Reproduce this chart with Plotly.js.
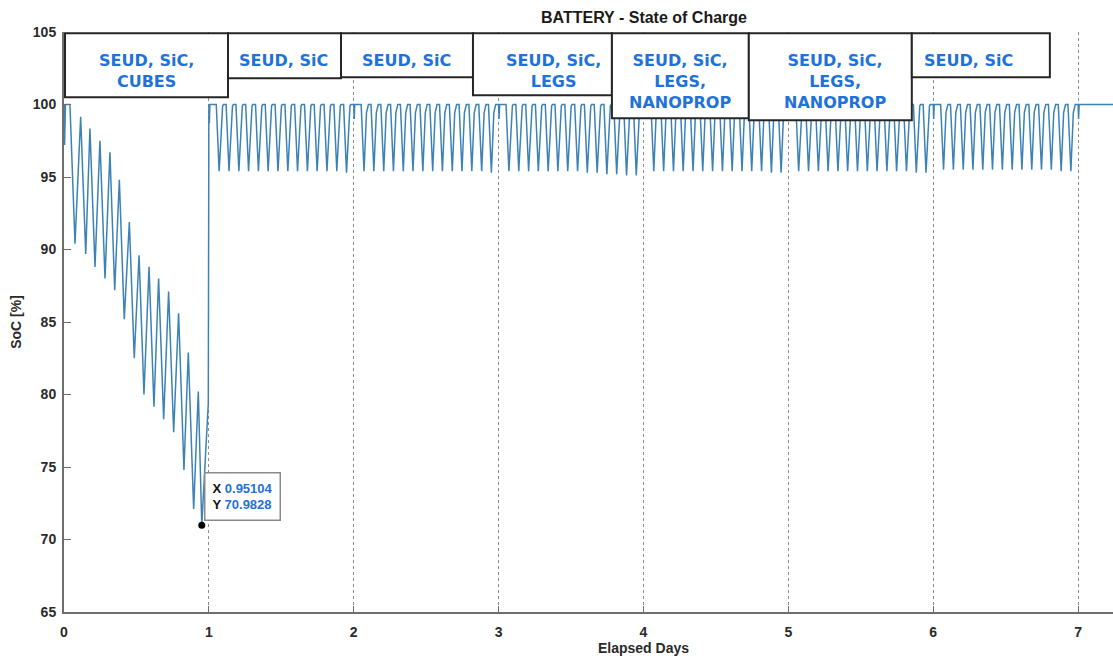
<!DOCTYPE html>
<html>
<head>
<meta charset="utf-8">
<script src="https://cdn.plot.ly/plotly-3.0.1.min.js"></script>
<style>
  html, body { margin: 0; padding: 0; overflow: hidden; background: #fff; }
  #chart { width: 1233px; height: 662px; }
</style>
</head>
<body>
<div id="chart"></div>
<script>
// ---------------- data ----------------
// Day 0 (first day, deep cycling): key points (elapsed days, SoC %)
const day0T = [0, 0.004, 0.010, 0.041, 0.076, 0.115, 0.150, 0.179, 0.214, 0.248, 0.283, 0.317, 0.350,
  0.382, 0.416, 0.451, 0.485, 0.518, 0.552, 0.587, 0.621, 0.653, 0.688, 0.722, 0.757, 0.791,
  0.828, 0.858, 0.895, 0.927, 0.951, 0.996, 1.000];
const day0SoC = [100, 97.2, 100, 100, 90.4, 99.15, 89.7, 98.35, 88.8, 97.5, 88.0, 96.7, 87.2,
  94.8, 85.2, 91.9, 82.5, 89.6, 80.0, 88.8, 79.15, 88.0, 78.3, 87.1, 77.4, 85.6,
  74.8, 82.9, 72.1, 80.2, 70.98, 79.4, 100];

// Days 1-7: eclipse troughs (elapsed days) and their SoC minima
const troughT = [
  1.071, 1.139, 1.207, 1.274, 1.342, 1.409, 1.477, 1.545, 1.612, 1.680, 1.747, 1.815, 1.883, 1.950,
  2.071, 2.139, 2.207, 2.274, 2.342, 2.409, 2.477, 2.545, 2.612, 2.680, 2.747, 2.815, 2.883, 2.950,
  3.071, 3.139, 3.207, 3.274, 3.342, 3.409, 3.477, 3.545, 3.612, 3.680, 3.747, 3.815, 3.883, 3.950,
  4.071, 4.139, 4.207, 4.274, 4.342, 4.409, 4.477, 4.545, 4.612, 4.680, 4.747, 4.815, 4.883, 4.950,
  5.071, 5.139, 5.207, 5.274, 5.342, 5.409, 5.477, 5.545, 5.612, 5.680, 5.747, 5.815, 5.883, 5.950,
  6.071, 6.139, 6.207, 6.274, 6.342, 6.409, 6.477, 6.545, 6.612, 6.680, 6.747, 6.815, 6.883, 6.950
];
const troughSoC = [
  95.4, 95.4, 95.4, 95.4, 95.4, 95.4, 95.4, 95.4, 95.4, 95.4, 95.4, 95.4, 95.4, 95.3,
  95.4, 95.4, 95.4, 95.4, 95.4, 95.4, 95.4, 95.4, 95.4, 95.4, 95.4, 95.4, 95.4, 95.3,
  95.4, 95.4, 95.4, 95.4, 95.4, 95.4, 95.4, 95.4, 95.3, 95.3, 95.2, 95.2, 95.1, 95.1,
  95.4, 95.4, 95.4, 95.4, 95.4, 95.4, 95.4, 95.4, 95.4, 95.4, 95.4, 95.4, 95.3, 95.3,
  95.4, 95.4, 95.4, 95.4, 95.4, 95.4, 95.4, 95.4, 95.4, 95.4, 95.4, 95.4, 95.3, 95.3,
  95.5, 95.5, 95.5, 95.5, 95.5, 95.5, 95.5, 95.5, 95.5, 95.5, 95.5, 95.5, 95.4, 95.4
];
// Start-of-day days and the short SoC dip seen at each day boundary
const dayStarts = [1, 2, 3, 4, 5, 6, 7];
const dayStartDip = [98.7, 99.0, 99.0, 99.0, 99.0, 99.0, 99.0];
const endDay = 8;
const fullSoC = 100;

// Data cursor
const cursorX = [0.95104];
const cursorY = [70.9828];

// Payload boxes
const boxLabels = ['SEUD, SiC,<br>CUBES', 'SEUD, SiC', 'SEUD, SiC', 'SEUD, SiC,<br>LEGS',
  'SEUD, SiC,<br>LEGS,<br>NANOPROP', 'SEUD, SiC,<br>LEGS,<br>NANOPROP', 'SEUD, SiC'];

// Axis ticks
const xTicks = [0, 1, 2, 3, 4, 5, 6, 7];
const yTicks = [65, 70, 75, 80, 85, 90, 95, 100, 105];

// ---------------- build the SoC polyline ----------------
const DROP = 0.020, RISE1 = 0.017, RISE2 = 0.024, RISE3 = 0.030;
const xs = day0T.slice(), ys = day0SoC.slice();
let ti = 0;
dayStarts.forEach((d, k) => {
  xs.push(d, d + 0.003, d + 0.007);
  ys.push(fullSoC, dayStartDip[k], fullSoC);
  while (ti < troughT.length && troughT[ti] < d + 1) {
    const t = troughT[ti], v = troughSoC[ti];
    xs.push(t - DROP, t, t + RISE1, t + RISE2, t + RISE3);
    ys.push(fullSoC, v, fullSoC - (fullSoC - v) * 0.12, fullSoC - (fullSoC - v) * 0.02, fullSoC);
    ti++;
  }
});
xs.push(endDay); ys.push(fullSoC);

// ---------------- layout pieces ----------------
const boxX = [[0.007, 1.132], [1.132, 1.912], [1.912, 2.823], [2.823, 3.782], [3.782, 4.727], [4.727, 5.852], [5.852, 6.805]];
const boxBottom = [100.50, 101.81, 101.88, 100.64, 99.05, 98.91, 101.88];
const boxTop = 104.91;
const labelX = [0.566, 1.518, 2.367, 3.382, 4.251, 5.321, 6.246];

const shapes = boxX.map((b, i) => ({
  type: 'rect', xref: 'x', yref: 'y', x0: b[0], x1: b[1], y0: boxBottom[i], y1: boxTop,
  fillcolor: '#ffffff', line: { color: '#262626', width: 2 }, layer: 'above'
}));
const annotations = boxLabels.map((txt, i) => ({
  x: labelX[i], y: 103.85, xref: 'x', yref: 'y', text: txt, showarrow: false,
  xanchor: 'center', yanchor: 'top', align: 'center',
  font: { family: 'DejaVu Sans', size: 16, color: '#1f72d8', weight: 'bold' }
}));
annotations.push({
  x: cursorX[0], y: cursorY[0], xref: 'x', yref: 'y', showarrow: false,
  xanchor: 'left', yanchor: 'bottom', xshift: 2, yshift: 4, align: 'left',
  text: 'X <span style="color:#1f72d8">' + cursorX[0].toFixed(5) + '</span><br>Y <span style="color:#1f72d8">' + cursorY[0].toFixed(4) + '</span>',
  font: { family: 'Liberation Sans', size: 13, color: '#111', weight: 'bold' },
  bgcolor: '#ffffff', bordercolor: '#8a8a8a', borderwidth: 1.5, borderpad: 7
});
annotations.push({
  x: 0.5, y: 1, xref: 'paper', yref: 'paper', yanchor: 'bottom', yshift: 4, showarrow: false,
  text: 'BATTERY - State of Charge',
  font: { family: 'Liberation Sans', size: 16, color: '#1a1a1a', weight: 'bold' }
});

const traces = [
  { x: xs, y: ys, type: 'scatter', mode: 'lines', line: { color: '#3d82b6', width: 1.5 }, hoverinfo: 'skip' },
  { x: cursorX, y: cursorY, type: 'scatter', mode: 'markers', marker: { color: '#000', size: 7 }, hoverinfo: 'skip' }
];

const tickFont = { family: 'Liberation Sans', size: 14, color: '#2a2a2a', weight: 'bold' };
const layout = {
  width: 1233, height: 662,
  margin: { l: 64, r: 10, t: 32, b: 50 },
  paper_bgcolor: '#ffffff', plot_bgcolor: '#ffffff',
  showlegend: false,
  xaxis: {
    range: [0, 8], tickvals: xTicks, ticktext: xTicks.map(String),
    showgrid: true, gridcolor: '#8c8c8c', griddash: 'dot', gridwidth: 1,
    zeroline: false, showline: true, linecolor: '#6e6e6e', linewidth: 2,
    ticks: 'inside', ticklen: 6, tickcolor: '#6e6e6e', tickfont: tickFont, ticklabelstandoff: 6,
    title: { text: 'Elapsed Days', font: { family: 'Liberation Sans', size: 14, color: '#2a2a2a', weight: 'bold' }, standoff: 4 }
  },
  yaxis: {
    range: [65, 105], tickvals: yTicks, ticktext: yTicks.map(String),
    showgrid: false, zeroline: false, showline: true, linecolor: '#6e6e6e', linewidth: 2,
    ticks: 'inside', ticklen: 7, tickcolor: '#6e6e6e', tickfont: tickFont, ticklabelstandoff: 3,
    title: { text: 'SoC [%]', font: { family: 'Liberation Sans', size: 14, color: '#2a2a2a', weight: 'bold' }, standoff: 8 }
  },
  shapes: shapes,
  annotations: annotations
};

Plotly.newPlot('chart', traces, layout, { displayModeBar: false, staticPlot: true });
</script>
</body>
</html>
